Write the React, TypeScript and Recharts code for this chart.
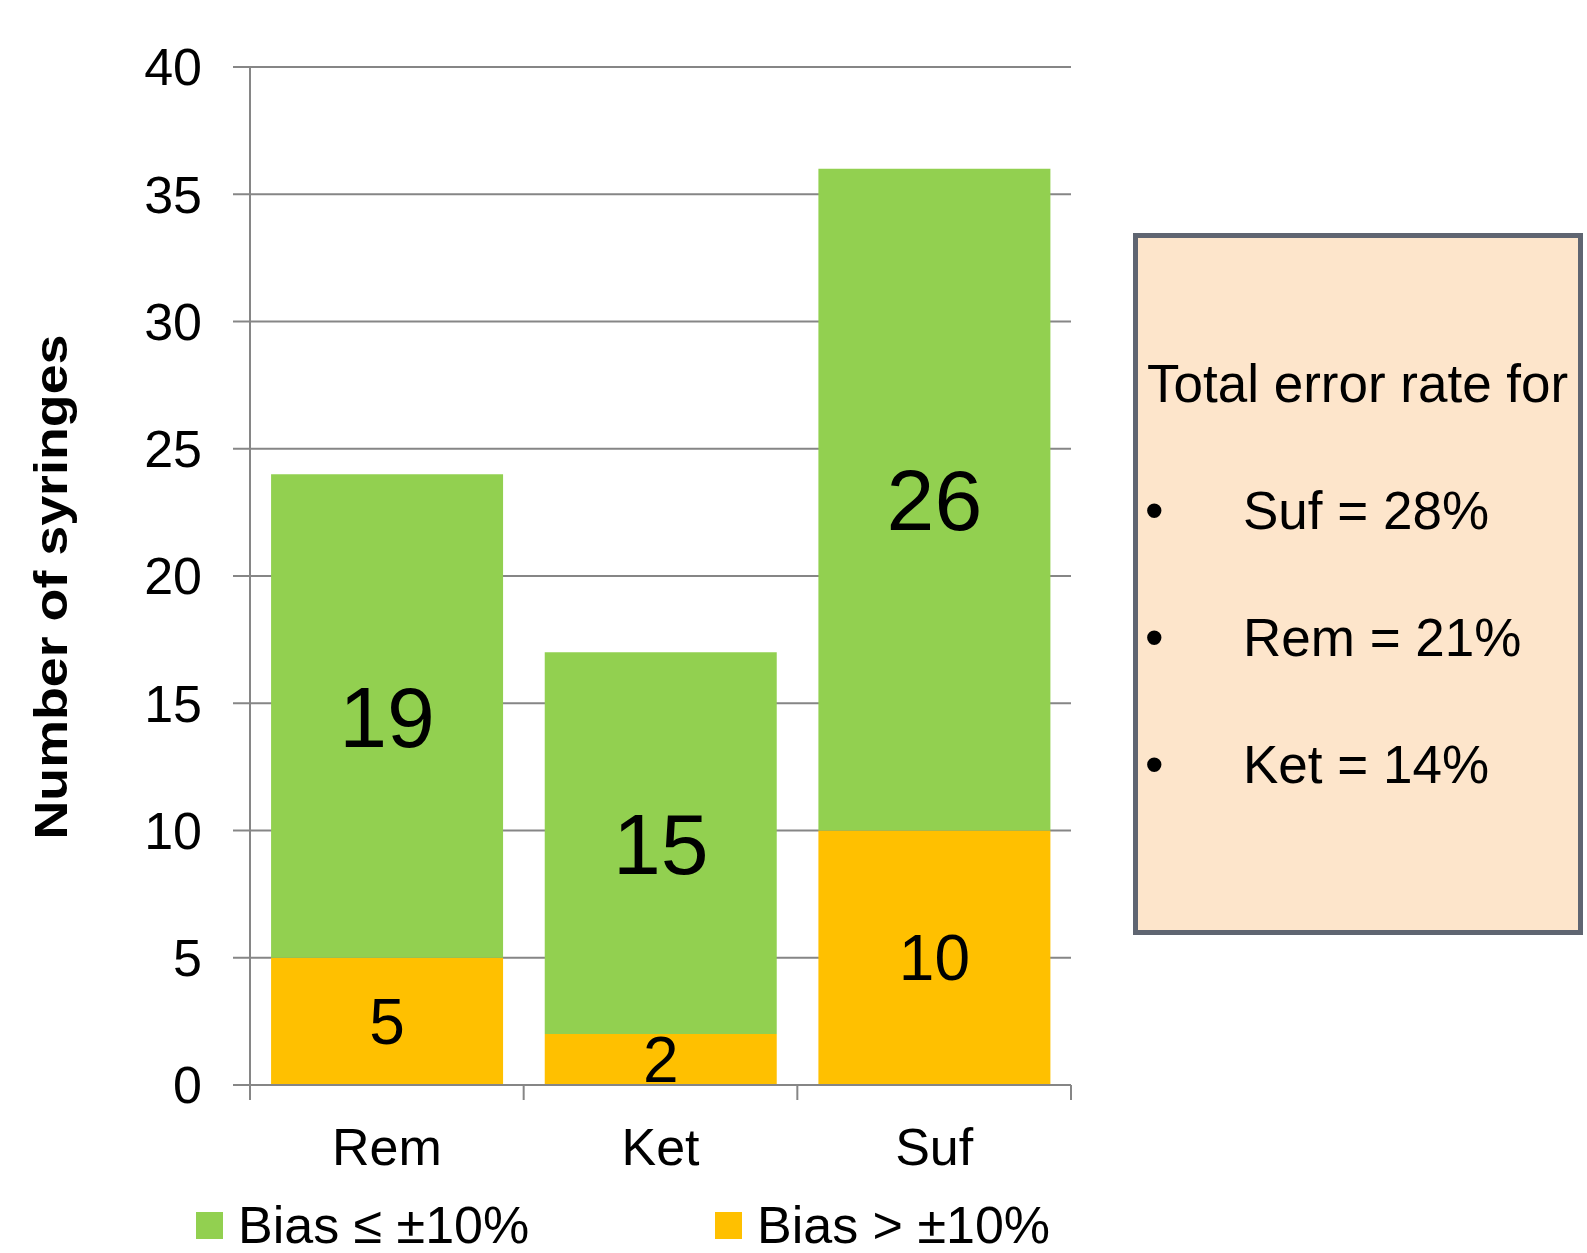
import React from "react";
import {
  BarChart,
  Bar,
  XAxis,
  YAxis,
  CartesianGrid,
  LabelList,
  Legend,
} from "recharts";

const categories = ["Rem", "Ket", "Suf"];
const biasWithin = [19, 15, 26];
const biasOver = [5, 2, 10];
const yTicks = [0, 5, 10, 15, 20, 25, 30, 35, 40];
const rateNames = ["Suf", "Rem", "Ket"];
const rateValues = [28, 21, 14];

const FONT = '"Liberation Sans", Arial, sans-serif';
const GREEN = "#92D050";
const YELLOW = "#FFC000";
const GRID = "#868686";

const W = 1587;
const H = 1253;
const margin = { top: 67, right: 516, left: 0, bottom: 68 };
const Y_AXIS_W = 250;
const X_AXIS_H = 100;
const plotW = W - margin.left - margin.right - Y_AXIS_W;

const data = categories.map((name, i) => ({
  name,
  within: biasWithin[i],
  over: biasOver[i],
}));

function XTick(props: any) {
  const { x, y, payload, index } = props;
  const half = plotW / categories.length / 2;
  return (
    <g>
      <line x1={x - half} x2={x - half} y1={y} y2={y + 15} stroke={GRID} strokeWidth={2} />
      {index === categories.length - 1 && (
        <line x1={x + half} x2={x + half} y1={y} y2={y + 15} stroke={GRID} strokeWidth={2} />
      )}
      <text x={x} y={y + 80} textAnchor="middle" fontSize={52} fontFamily={FONT} fill="#000">
        {payload.value}
      </text>
    </g>
  );
}

function YTitle(props: any) {
  const { viewBox } = props;
  const x = viewBox.x + 67;
  const y = viewBox.y + viewBox.height / 2 + 11;
  return (
    <text
      x={x}
      y={y}
      transform={`rotate(-90, ${x}, ${y})`}
      textAnchor="middle"
      fontSize={46}
      fontWeight="bold"
      fontFamily={FONT}
      fill="#000"
      textLength={505}
      lengthAdjust="spacingAndGlyphs"
    >
      Number of syringes
    </text>
  );
}

function renderLegend() {
  return (
    <svg width={W} height={60} style={{ display: "block" }}>
      <rect x={196} y={17} width={27} height={27} fill={GREEN} />
      <text x={238} y={48} fontSize={52} fontFamily={FONT} fill="#000">
        Bias ≤ ±10%
      </text>
      <rect x={715} y={17} width={27} height={27} fill={YELLOW} />
      <text x={757} y={48} fontSize={52} fontFamily={FONT} fill="#000">
        Bias &gt; ±10%
      </text>
    </svg>
  );
}

export default function App() {
  const lineY = [529, 656, 783];
  return (
    <div style={{ position: "absolute", left: 0, top: 0, width: W, height: H, background: "#fff" }}>
      <BarChart width={W} height={H} data={data} margin={margin} barCategoryGap="7.7%">
        <CartesianGrid vertical={false} stroke={GRID} strokeWidth={2} />
        <XAxis
          dataKey="name"
          height={X_AXIS_H}
          axisLine={{ stroke: GRID, strokeWidth: 2 }}
          tickLine={false}
          tickSize={0}
          tickMargin={0}
          tick={<XTick />}
          interval={0}
        />
        <YAxis
          width={Y_AXIS_W}
          domain={[0, 40]}
          ticks={yTicks}
          interval={0}
          axisLine={{ stroke: GRID, strokeWidth: 2 }}
          tickLine={{ stroke: GRID, strokeWidth: 2 }}
          tickSize={17}
          tickMargin={31}
          tick={{ fontSize: 52, fontFamily: FONT, fill: "#000" }}
          label={{ content: <YTitle /> }}
        />
        <Legend
          layout="horizontal"
          verticalAlign="middle"
          align="center"
          content={renderLegend}
          wrapperStyle={{ position: "absolute", left: 0, top: 1195, width: W, height: 60 }}
        />
        <Bar dataKey="over" stackId="a" fill={YELLOW} isAnimationActive={false}>
          <LabelList dataKey="over" position="center" fontSize={64} fontFamily={FONT} fill="#000" />
        </Bar>
        <Bar dataKey="within" stackId="a" fill={GREEN} isAnimationActive={false}>
          <LabelList dataKey="within" position="center" fontSize={86} fontFamily={FONT} fill="#000" />
        </Bar>
      </BarChart>
      <svg
        width={W}
        height={H}
        style={{ position: "absolute", left: 0, top: 0, pointerEvents: "none" }}
      >
        <rect x={1135.5} y={235.5} width={445} height={697} fill="#FDE5CB" stroke="#5F6571" strokeWidth={5} />
        <text x={1147} y={402} fontSize={53} fontFamily={FONT} fill="#000">
          Total error rate for
        </text>
        {rateNames.map((n, i) => (
          <g key={n}>
            <text x={1145} y={lineY[i]} fontSize={53} fontFamily={FONT} fill="#000">
              •
            </text>
            <text x={1243} y={lineY[i]} fontSize={53} fontFamily={FONT} fill="#000">
              {`${n} = ${rateValues[i]}%`}
            </text>
          </g>
        ))}
      </svg>
    </div>
  );
}
